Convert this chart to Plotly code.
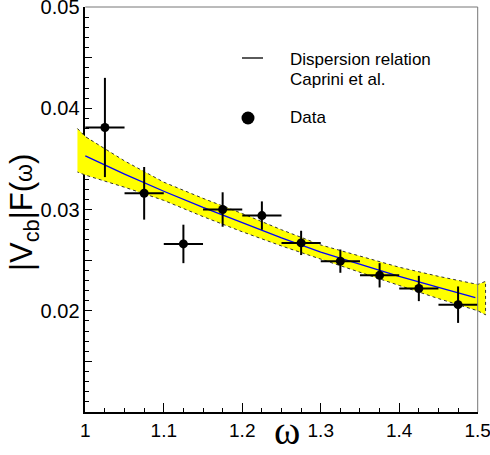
import plotly.graph_objects as go

# ---------------- data ----------------
omega = [1.025, 1.075, 1.125, 1.175, 1.225, 1.275, 1.325, 1.375, 1.425, 1.475]
omega_err = [0.025, 0.025, 0.025, 0.025, 0.025, 0.025, 0.025, 0.025, 0.025, 0.025]
ff = [0.0381, 0.0316, 0.0266, 0.0300, 0.0294, 0.0267, 0.0249, 0.0235, 0.0222, 0.0206]
ff_err = [0.0049, 0.0026, 0.0019, 0.0017, 0.0014, 0.0012, 0.00115, 0.0012, 0.00125, 0.0018]

band_omega = [0.99, 1.0, 1.05, 1.1, 1.15, 1.2, 1.25, 1.3, 1.35, 1.4, 1.45, 1.5, 1.51]
band_upper = [0.0380, 0.0372, 0.0348, 0.0327, 0.0311, 0.0296, 0.0280, 0.0265, 0.0254, 0.0243, 0.0234, 0.0226, 0.0229]
band_lower = [0.0337, 0.0334, 0.0322, 0.0309, 0.0293, 0.0278, 0.0264, 0.0251, 0.0238, 0.0225, 0.0212, 0.0200, 0.0196]

line_omega = [1.0, 1.05, 1.1, 1.15, 1.2, 1.25, 1.3, 1.35, 1.4, 1.45, 1.497]
line_ff = [0.0353, 0.0335, 0.0318, 0.0302, 0.0287, 0.0272, 0.0258, 0.0246, 0.0234, 0.0223, 0.0213]

x_tickvals = [1.0, 1.1, 1.2, 1.3, 1.4, 1.5]
x_ticktext = ["1", "1.1", "1.2", "1.3", "1.4", "1.5"]
y_tickvals = [0.02, 0.03, 0.04, 0.05]
y_ticktext = ["0.02", "0.03", "0.04", "0.05"]
y_halfticks = [0.015, 0.025, 0.035, 0.045]

# ---------------- layout geometry ----------------
W, H = 490, 455
TOP, BOT = 7, 412
XL, XR = 85.3, 477.7
X_RANGE = [1.0, 1.5]
Y_RANGE = [0.01, 0.05]
BAND_LEFT_PX = 70.0

def px_x(p):
    return p / W

def px_y(p):
    return (BOT - p) / (BOT - TOP)

upp = (X_RANGE[1] - X_RANGE[0]) / (XR - XL)
x2_range = [X_RANGE[0] - (XL - BAND_LEFT_PX) * upp, X_RANGE[1] + (W - XR) * upp]

fig = go.Figure()

# empty traces so the main (visible) axes exist
fig.add_trace(go.Scatter(x=[], y=[], xaxis="x", yaxis="y", showlegend=False))
fig.add_trace(go.Scatter(x=[], y=[], xaxis="x", yaxis="y2", showlegend=False))

# yellow uncertainty band (dotted border)
fig.add_trace(go.Scatter(
    x=band_omega + band_omega[::-1],
    y=band_upper + band_lower[::-1],
    fill="toself", fillcolor="#ffff00",
    line=dict(color="#333333", width=1, dash="dot"),
    mode="lines", xaxis="x2", yaxis="y", showlegend=False, hoverinfo="skip"))

# central dispersion relation curve
fig.add_trace(go.Scatter(
    x=line_omega, y=line_ff, mode="lines",
    line=dict(color="#0000ff", width=1.3),
    xaxis="x2", yaxis="y", showlegend=False))

# data points
fig.add_trace(go.Scatter(
    x=omega, y=ff, mode="markers",
    marker=dict(color="black", size=9),
    error_x=dict(type="data", array=omega_err, color="black", thickness=2, width=0),
    error_y=dict(type="data", array=ff_err, color="black", thickness=2, width=0),
    xaxis="x2", yaxis="y", showlegend=False))

font = "Liberation Sans, Arial, Helvetica, sans-serif"

fig.update_layout(
    width=W, height=H,
    margin=dict(l=0, r=0, t=TOP, b=H - BOT, pad=0, autoexpand=False),
    paper_bgcolor="white", plot_bgcolor="rgba(0,0,0,0)",
    showlegend=False,
    font=dict(family=font, color="black"),
    xaxis=dict(
        domain=[px_x(XL), px_x(XR)], range=X_RANGE, anchor="y", automargin=False,
        showgrid=False, zeroline=False,
        showline=True, linecolor="black", linewidth=1.5,
        tickvals=x_tickvals, ticktext=x_ticktext,
        ticks="inside", ticklen=9, tickwidth=1, tickcolor="black",
        minor=dict(dtick=0.025, tick0=1.0, ticks="inside", ticklen=4, tickwidth=1, tickcolor="black", showgrid=False),
        tickfont=dict(size=19, family=font, color="black"),
        ticklabeloverflow="allow",
    ),
    xaxis2=dict(
        domain=[px_x(BAND_LEFT_PX), 1.0], range=x2_range, anchor="y", automargin=False,
        visible=False, showgrid=False, zeroline=False,
    ),
    yaxis=dict(
        domain=[0, 1], range=Y_RANGE, anchor="x", automargin=False,
        showgrid=False, zeroline=False,
        showline=True, linecolor="black", linewidth=1.5,
        tickvals=y_tickvals, ticktext=y_ticktext,
        ticks="inside", ticklen=7, tickwidth=1, tickcolor="black",
        minor=dict(dtick=0.001, tick0=0.01, ticks="inside", ticklen=4, tickwidth=1, tickcolor="black", showgrid=False),
        tickfont=dict(size=20, family=font, color="black"),
        ticklabeloverflow="allow",
    ),
    yaxis2=dict(
        overlaying="y", anchor="x", side="left", range=Y_RANGE, automargin=False,
        showgrid=False, zeroline=False, showline=False, showticklabels=False,
        tickvals=y_halfticks, ticks="inside", ticklen=7, tickwidth=1, tickcolor="black",
    ),
)

shapes = [
    # frame top / right
    dict(type="line", xref="paper", yref="paper", x0=px_x(XL), x1=px_x(XR), y0=1, y1=1,
         line=dict(color="#777777", width=1)),
    dict(type="line", xref="paper", yref="paper", x0=px_x(XR), x1=px_x(XR), y0=0, y1=1,
         line=dict(color="#777777", width=1)),
    # legend line sample
    dict(type="line", xref="paper", yref="paper", x0=px_x(242), x1=px_x(263), y0=px_y(58), y1=px_y(58),
         line=dict(color="black", width=1.3)),
    # legend dot
    dict(type="circle", xref="paper", yref="paper", x0=px_x(241.5), x1=px_x(254.5), y0=px_y(124.5), y1=px_y(111.5),
         fillcolor="black", line=dict(color="black", width=0)),
]
fig.update_layout(shapes=shapes)

annotations = [
    dict(text="Dispersion relation", x=px_x(288), y=px_y(59), xref="paper", yref="paper",
         xanchor="left", yanchor="middle", showarrow=False, font=dict(size=17, family=font)),
    dict(text="Caprini et al.", x=px_x(288), y=px_y(79), xref="paper", yref="paper",
         xanchor="left", yanchor="middle", showarrow=False, font=dict(size=17, family=font)),
    dict(text="Data", x=px_x(288), y=px_y(118), xref="paper", yref="paper",
         xanchor="left", yanchor="middle", showarrow=False, font=dict(size=17, family=font)),
    dict(text="ω", x=px_x(287), y=px_y(430), xref="paper", yref="paper",
         xanchor="center", yanchor="middle", showarrow=False,
         font=dict(size=40, family="Liberation Serif, Times New Roman, serif")),
    dict(text="|V<sub>cb</sub>|F(<span style='font-size:23px'>ω</span>)",
         x=px_x(24), y=px_y(213), xref="paper", yref="paper",
         xanchor="center", yanchor="middle", textangle=-90, showarrow=False,
         font=dict(size=31, family=font)),
]
fig.update_layout(annotations=annotations)

fig.write_html("out.html", post_script="document.body.style.margin='0';",
               config={"displayModeBar": False})
